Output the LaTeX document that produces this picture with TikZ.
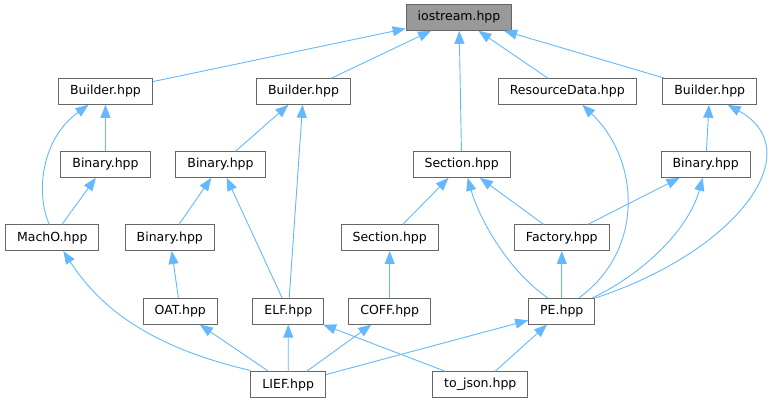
\documentclass[tikz,border=0pt]{standalone}
\usepackage{fontspec}
\setmainfont{DejaVu Sans}
\usepackage{tikz}
\usetikzlibrary{calc, positioning, arrows.meta}

\definecolor{edgeblue}{HTML}{63B8FF}
\definecolor{boxgray}{HTML}{666666}
\definecolor{rootgray}{HTML}{999999}

\begin{document}
\begin{tikzpicture}[x=1pt, y=-1pt,
        every node/.style={font=\fontsize{12.5}{14}\selectfont},
        filebox/.style={draw=boxgray, line width=1pt, fill=white, rectangle, minimum height=25.6pt, inner xsep=11.5pt, inner ysep=0pt},
        rootbox/.style={filebox, fill=rootgray},
        dep/.style={draw=edgeblue, line width=0.9pt, -{Triangle[length=13pt, width=10pt]}}]
        \useasboundingbox (0,0) rectangle (772,403);

        \node[rootbox] (io) at (459,17.5) {iostream.hpp};

        \node[filebox] (bldA) at (105.5,91.5) {Builder.hpp};
        \node[filebox] (bldB) at (303.5,91.5) {Builder.hpp};
        \node[filebox] (res) at (567.3,91.5) {ResourceData.hpp};
        \node[filebox] (bldC) at (709.7,91.5) {Builder.hpp};

        \node[filebox] (binA) at (105.5,164.5) {Binary.hpp};
        \node[filebox] (binB) at (220.5,164.5) {Binary.hpp};
        \node[filebox] (secA) at (461.7,164.5) {Section.hpp};
        \node[filebox] (binC) at (705.7,164.5) {Binary.hpp};

        \node[filebox] (macho) at (52.3,237.7) {MachO.hpp};
        \node[filebox] (binD) at (169.8,237.7) {Binary.hpp};
        \node[filebox] (secB) at (389.7,237.7) {Section.hpp};
        \node[filebox] (fac) at (561.8,237.7) {Factory.hpp};

        \node[filebox] (oat) at (180.3,311.3) {OAT.hpp};
        \node[filebox] (elf) at (288.3,311.3) {ELF.hpp};
        \node[filebox] (coff) at (389.7,311.3) {COFF.hpp};
        \node[filebox] (pe) at (561.8,311.3) {PE.hpp};

        \node[filebox] (lief) at (288.2,384.7) {LIEF.hpp};
        \node[filebox] (json) at (480.3,384.7) {to\_json.hpp};

        % row 2 -> iostream
        \draw[dep] (bldA) -- (io);
        \draw[dep] (bldB) -- (io);
        \draw[dep] (secA) -- (io);
        \draw[dep] (res) -- (io);
        \draw[dep] (bldC) -- (io);

        % left part
        \draw[dep] (binA) -- (bldA);
        \draw[dep] ([xshift=-3pt]macho.north) .. controls (36,195) and (40,140) .. ([xshift=-17pt]bldA.south);
        \draw[dep] (macho) -- (binA);
        \draw[dep] (binB) -- (bldB);
        \draw[dep] (elf) -- (bldB);
        \draw[dep] (binD) -- (binB);
        \draw[dep] (elf) -- (binB);
        \draw[dep] (oat) -- (binD);

        % LIEF and to_json
        \draw[dep] ([yshift=1pt]lief.north west) .. controls (140,345) and (95,300) .. ([xshift=11pt]macho.south);
        \draw[dep] (lief) -- (oat);
        \draw[dep] (lief) -- (elf);
        \draw[dep] (lief) -- (coff);
        \draw[dep] (lief) -- (pe);
        \draw[dep] (json) -- (elf);
        \draw[dep] (json) -- (pe);

        % right part
        \draw[dep] (secB) -- (secA);
        \draw[dep] (fac) -- (secA);
        \draw[dep] ([xshift=-14pt]pe.north) .. controls (505,268) and (478,215) .. ([xshift=6pt]secA.south);
        \draw[dep] (coff) -- (secB);
        \draw[dep] (pe) -- (fac);
        \draw[dep] ([xshift=17pt]pe.north) .. controls (645,250) and (640,160) .. ([xshift=15pt]res.south);
        \draw[dep] ([xshift=-3pt]pe.north east) .. controls (650,270) and (690,225) .. ([xshift=-3pt]binC.south);
        \draw[dep] (pe.north east) .. controls (740,250) and (810,150) .. ([xshift=18pt]bldC.south);
        \draw[dep] (fac) -- (binC);
        \draw[dep] (binC) -- (bldC);
    \end{tikzpicture}
\end{document}
